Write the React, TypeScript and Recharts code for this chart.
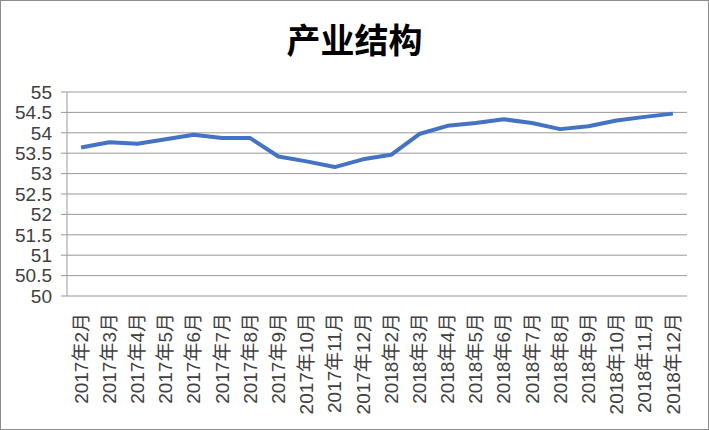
import { LineChart, Line, XAxis, YAxis, CartesianGrid } from 'recharts'

const months = [
  '2017年2月', '2017年3月', '2017年4月', '2017年5月', '2017年6月', '2017年7月',
  '2017年8月', '2017年9月', '2017年10月', '2017年11月', '2017年12月',
  '2018年2月', '2018年3月', '2018年4月', '2018年5月', '2018年6月', '2018年7月',
  '2018年8月', '2018年9月', '2018年10月', '2018年11月', '2018年12月',
]

const values = [
  53.64, 53.77, 53.73, 53.84, 53.95, 53.87, 53.87, 53.42, 53.3, 53.16, 53.35,
  53.46, 53.97, 54.17, 54.24, 54.33, 54.24, 54.09, 54.16, 54.3, 54.39, 54.47,
]

const yTicks = [50, 50.5, 51, 51.5, 52, 52.5, 53, 53.5, 54, 54.5, 55]

const data = values.map((v, i) => ({ i, month: months[i], value: v }))
const labelTicks = months.map((_, i) => i)
const edgeTicks = [...months.map((_, i) => i - 0.5), months.length - 0.5]

const FONT = '"Liberation Sans", "Noto Sans CJK SC", sans-serif'
const TEXT = '#404040'
const GRID = '#999999'

interface TickProps {
  x?: number
  y?: number
  payload?: { value: number }
}

const MonthTick = ({ x = 0, y = 0, payload }: TickProps) => {
  const label = payload ? months[payload.value] : ''
  return (
    <g transform={`translate(${x},${y + 9})`}>
      <text
        transform="rotate(-90)"
        textAnchor="end"
        dy="0.35em"
        fill={TEXT}
        fontSize={19}
        fontFamily={FONT}
      >
        {label}
      </text>
    </g>
  )
}

export default function App() {
  return (
    <div style={{ position: 'absolute', left: 0, top: 0, width: 709, height: 430, background: '#fff' }}>
      <LineChart
        width={709}
        height={430}
        data={data}
        margin={{ top: 92, right: 22, left: 10, bottom: 14 }}
      >
        <CartesianGrid vertical={false} stroke={GRID} strokeWidth={1} />
        <XAxis
          xAxisId="edge"
          dataKey="i"
          type="number"
          domain={[-0.5, months.length - 0.5]}
          ticks={edgeTicks}
          tick={false}
          height={0}
          tickSize={5}
          stroke={GRID}
          tickLine={{ stroke: GRID }}
          axisLine={{ stroke: GRID }}
        />
        <XAxis
          xAxisId="main"
          dataKey="i"
          type="number"
          domain={[-0.5, months.length - 0.5]}
          ticks={labelTicks}
          interval={0}
          tick={<MonthTick />}
          tickLine={false}
          axisLine={false}
          height={120}
        />
        <YAxis
          domain={[50, 55]}
          ticks={yTicks}
          interval={0}
          width={57}
          tickSize={6}
          tickMargin={9}
          stroke={GRID}
          tick={{ fill: TEXT, fontSize: 19, fontFamily: FONT }}
          tickLine={{ stroke: GRID }}
          axisLine={{ stroke: GRID }}
        />
        <Line
          xAxisId="main"
          dataKey="value"
          stroke="#4472C4"
          strokeWidth={4}
          strokeLinejoin="round"
          dot={false}
          activeDot={false}
          isAnimationActive={false}
        />
      </LineChart>
      <div
        style={{
          position: 'absolute',
          left: 0,
          top: 22,
          width: 709,
          textAlign: 'center',
          fontFamily: '"Noto Sans CJK SC", sans-serif',
          fontWeight: 'bold',
          fontSize: 34,
          lineHeight: '34px',
          color: '#000',
        }}
      >
        产业结构
      </div>
      <div
        style={{
          position: 'absolute',
          left: 0,
          top: 0,
          width: 709,
          height: 430,
          boxSizing: 'border-box',
          border: '1px solid #8c8c8c',
          pointerEvents: 'none',
        }}
      />
    </div>
  )
}
